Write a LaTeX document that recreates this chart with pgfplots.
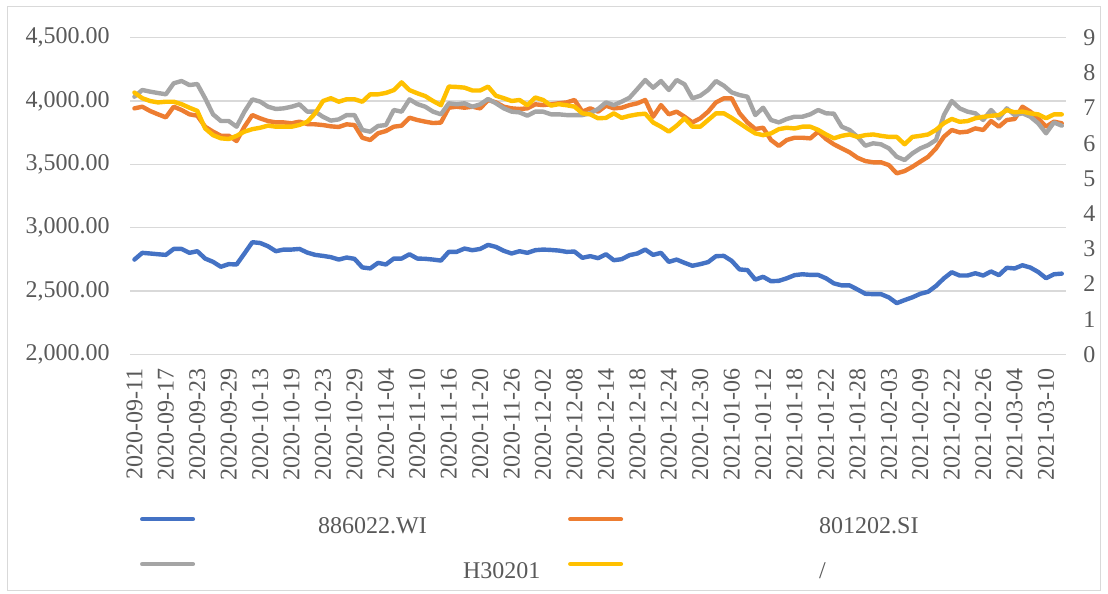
\documentclass[border=0pt]{standalone}
\usepackage{pgfplots}
\pgfplotsset{compat=1.18}
\usepackage{pgfplotstable}
\usepackage{fontspec}
\setmainfont{Liberation Serif}
\definecolor{cblue}{HTML}{4472C4}
\definecolor{corange}{HTML}{ED7D31}
\definecolor{cgray}{HTML}{A5A5A5}
\definecolor{cyellow}{HTML}{FFC000}
\definecolor{tgray}{HTML}{595959}
\definecolor{ggray}{HTML}{D9D9D9}
\pgfplotstableread{
i blue orange gray yellow
0 2748 3942 4034 7.44
1 2801 3955 4087 7.28
2 2796 3921 4074 7.20
3 2790 3895 4063 7.16
4 2785 3871 4053 7.18
5 2832 3955 4140 7.18
6 2832 3929 4158 7.11
7 2801 3895 4126 7.01
8 2814 3884 4134 6.92
9 2756 3797 4021 6.42
10 2730 3758 3895 6.23
11 2691 3726 3842 6.14
12 2712 3726 3842 6.12
13 2709 3684 3797 6.21
14 2796 3797 3916 6.33
15 2885 3889 4013 6.40
16 2879 3863 3995 6.44
17 2853 3842 3955 6.50
18 2814 3831 3937 6.47
19 2827 3831 3942 6.47
20 2827 3824 3955 6.47
21 2832 3837 3974 6.52
22 2803 3818 3916 6.61
23 2785 3816 3916 6.85
24 2777 3810 3875 7.20
25 2767 3800 3845 7.28
26 2748 3795 3855 7.18
27 2764 3816 3889 7.25
28 2754 3810 3889 7.25
29 2686 3710 3771 7.18
30 2678 3692 3758 7.39
31 2722 3745 3803 7.39
32 2709 3763 3810 7.43
33 2756 3797 3929 7.51
34 2756 3805 3916 7.73
35 2790 3868 4013 7.51
36 2756 3850 3976 7.42
37 2754 3837 3955 7.34
38 2748 3826 3916 7.20
39 2740 3830 3895 7.08
40 2809 3947 3982 7.61
41 2809 3955 3974 7.60
42 2835 3947 3982 7.58
43 2822 3955 3955 7.50
44 2832 3942 3974 7.50
45 2864 4008 4016 7.61
46 2848 3989 3982 7.35
47 2817 3955 3942 7.28
48 2796 3942 3916 7.20
49 2814 3937 3910 7.23
50 2801 3942 3884 7.08
51 2822 3974 3916 7.30
52 2827 3968 3916 7.23
53 2824 3974 3895 7.07
54 2819 3982 3895 7.11
55 2809 3989 3889 7.08
56 2811 4008 3889 7.04
57 2762 3916 3889 6.85
58 2775 3942 3903 6.82
59 2759 3916 3937 6.71
60 2790 3963 3989 6.72
61 2743 3942 3968 6.85
62 2751 3947 3995 6.72
63 2783 3968 4026 6.78
64 2796 3982 4095 6.82
65 2827 4008 4166 6.84
66 2785 3876 4105 6.59
67 2801 3968 4158 6.47
68 2730 3895 4087 6.33
69 2748 3916 4166 6.50
70 2722 3876 4132 6.71
71 2699 3831 4021 6.47
72 2712 3863 4042 6.47
73 2728 3916 4087 6.66
74 2775 3989 4158 6.85
75 2777 4021 4121 6.85
76 2738 4021 4068 6.72
77 2670 3903 4047 6.57
78 2665 3831 4034 6.42
79 2590 3779 3889 6.28
80 2612 3789 3947 6.23
81 2577 3692 3850 6.28
82 2580 3645 3831 6.40
83 2600 3692 3858 6.44
84 2625 3710 3876 6.42
85 2632 3710 3876 6.47
86 2627 3705 3895 6.47
87 2627 3758 3929 6.38
88 2600 3700 3903 6.25
89 2560 3658 3900 6.14
90 2544 3626 3797 6.21
91 2544 3595 3771 6.25
92 2512 3552 3718 6.18
93 2478 3526 3647 6.23
94 2475 3516 3666 6.25
95 2475 3516 3658 6.21
96 2449 3494 3626 6.18
97 2404 3429 3560 6.18
98 2428 3447 3534 5.97
99 2450 3481 3587 6.18
100 2478 3521 3626 6.21
101 2494 3560 3652 6.25
102 2540 3626 3692 6.38
103 2600 3718 3889 6.57
104 2648 3771 4000 6.69
105 2622 3752 3942 6.61
106 2622 3758 3916 6.63
107 2640 3784 3903 6.71
108 2622 3771 3850 6.75
109 2654 3842 3929 6.78
110 2625 3797 3863 6.80
111 2683 3850 3942 6.94
112 2678 3858 3889 6.88
113 2703 3955 3903 6.90
114 2685 3916 3876 6.85
115 2650 3863 3824 6.82
116 2601 3797 3745 6.71
117 2632 3837 3831 6.82
118 2637 3824 3805 6.82
}\data

\begin{document}
\begin{tikzpicture}
\pgfplotsset{
  base/.style={
    scale only axis, width=701.4pt, height=237.45pt,
    xmin=-0.5, xmax=118.5,
    major tick length=0pt,
    tick label style={font=\fontsize{18}{21.6}\selectfont, text=tgray},
    /pgf/number format/assume math mode=true,
    clip mode=individual,
  },
  ser/.style={line width=3.3pt, line join=round, line cap=round},
}
\begin{axis}[base,
  ymin=2000, ymax=4500, ytick={2000,2500,...,4500},
  ymajorgrids, grid style={ggray, line width=1pt},
  axis line style={draw=none},
  xtick={0,4,...,116},
  xticklabels={2020-09-11,2020-09-17,2020-09-23,2020-09-29,2020-10-13,2020-10-19,2020-10-23,2020-10-29,2020-11-04,2020-11-10,2020-11-16,2020-11-20,2020-11-26,2020-12-02,2020-12-08,2020-12-14,2020-12-18,2020-12-24,2020-12-30,2021-01-06,2021-01-12,2021-01-18,2021-01-22,2021-01-28,2021-02-03,2021-02-09,2021-02-22,2021-02-26,2021-03-04,2021-03-10},
  xticklabel style={rotate=90, anchor=east, inner sep=0pt},
  xticklabel shift=10.5pt,
  yticklabel style={anchor=east, inner sep=0pt, /pgf/number format/.cd, fixed, fixed zerofill, precision=2, 1000 sep={,}},
  yticklabel shift=15.4pt,
  scaled y ticks=false,
]
\draw[ggray, line width=0.75pt] (axis description cs:-0.131,1.097) rectangle (axis description cs:1.0367,-0.7445);
\path (axis description cs:-0.13954,1.11907) rectangle (axis description cs:1.04523,-0.75711);
\addplot[cblue, ser] table[x=i, y=blue]{\data};
\addplot[corange, ser] table[x=i, y=orange]{\data};
\addplot[cgray, ser] table[x=i, y=gray]{\data};
\end{axis}
\begin{axis}[base,
  ymin=0, ymax=9, ytick={0,1,...,9},
  axis y line*=right, axis x line=none,
  y axis line style={draw=none},
  yticklabel style={anchor=west, inner sep=0pt},
  yticklabel shift=13pt,
  legend columns=2,
  legend cell align=left,
  legend image code/.code={\draw[#1, line width=3.3pt, line cap=round] (0pt,7pt) -- (38pt,7pt);},
  legend style={draw=none, fill=none, at={(axis description cs:0.0102,-0.514)}, anchor=north west,
    inner sep=0pt, outer sep=0pt, column sep=0pt, row sep=17pt,
    nodes={inner sep=0pt, text height=12pt, text depth=4pt, font=\fontsize{18}{21.6}\selectfont, text=tgray}},
]
\addlegendimage{cblue, ser}
\addlegendentry{\makebox[279.75pt][l]{\hspace{92.25pt}886022.WI}}
\addlegendimage{corange, ser}
\addlegendentry{\makebox[200pt][l]{\hspace{147pt}801202.SI}}
\addlegendimage{cgray, ser}
\addlegendentry{\makebox[279.75pt][l]{\hspace{201pt}H30201}}
\addplot[cyellow, ser] table[x=i, y=yellow]{\data};
\addlegendentry{\makebox[200pt][l]{\hspace{147pt}/}}
\end{axis}
\end{tikzpicture}
\end{document}
